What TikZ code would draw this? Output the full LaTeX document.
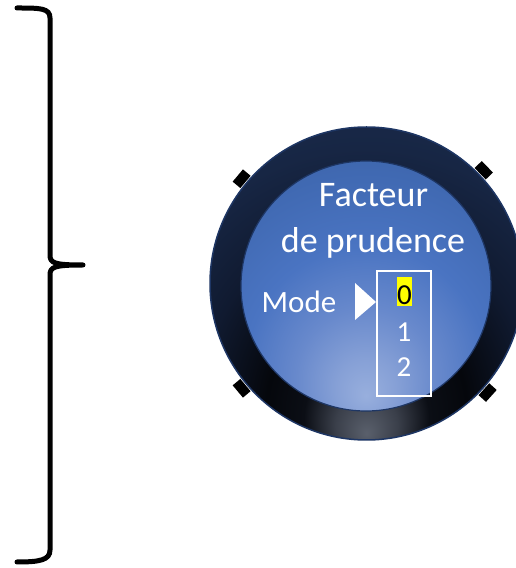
\documentclass[tikz,border=0pt]{standalone}
\usepackage{fontspec}
\setmainfont{Carlito}
\usetikzlibrary{calc}
\definecolor{rgA}{HTML}{5A606C}
\definecolor{rgB}{HTML}{3A3F4A}
\definecolor{rgC}{HTML}{0B0E15}
\definecolor{rgD}{HTML}{05070C}
\definecolor{rgE}{HTML}{101A30}
\definecolor{rgF}{HTML}{172644}
\definecolor{rgG}{HTML}{1C2E52}
\definecolor{inA}{HTML}{98AFDD}
\definecolor{inB}{HTML}{86A0D6}
\definecolor{inC}{HTML}{6889CC}
\definecolor{inD}{HTML}{4A74C2}
\definecolor{inE}{HTML}{4069B2}
\definecolor{inF}{HTML}{3A5E9F}
\definecolor{inG}{HTML}{35568F}
\definecolor{rimblue}{HTML}{1E3664}
\definecolor{hiyellow}{HTML}{FFFF00}
\pgfdeclareradialshading{ringshade}{\pgfpoint{0bp}{-24bp}}{color(0bp)=(rgA); color(5bp)=(rgB); color(10bp)=(rgC); color(16bp)=(rgD); color(26bp)=(rgE); color(36bp)=(rgF); color(50bp)=(rgG); color(90bp)=(rgG)}
\pgfdeclareradialshading{innershade}{\pgfpoint{0bp}{-22bp}}{color(0bp)=(inA); color(6bp)=(inB); color(14bp)=(inC); color(24bp)=(inD); color(36bp)=(inE); color(48bp)=(inF); color(60bp)=(inG); color(90bp)=(inG)}
\tikzset{
  brace/.style={line width=5pt, line cap=round, line join=round},
  tab/.style={fill=black, draw=none, minimum width=10pt, minimum height=16pt, inner sep=0pt},
  title/.style={text=white, font=\fontsize{36}{44}\selectfont, anchor=base, inner sep=0pt},
  modetxt/.style={text=white, font=\fontsize{31}{38}\selectfont, anchor=base, inner sep=0pt},
  digit/.style={text=white, font=\fontsize{29}{35}\selectfont, anchor=base, inner sep=0pt}
}
\begin{document}
\begin{tikzpicture}[x=1pt,y=1pt]
\useasboundingbox (0,0) rectangle (516,568);
% brace
\draw[brace] (17,560) .. controls (40,560) and (50,560) .. (50,550) -- (50,313)
  .. controls (50,305) and (54,303) .. (83,303)
  .. controls (54,303) and (50,301) .. (50,293) -- (50,18)
  .. controls (50,8) and (40,6) .. (17,6);
% tabs
\coordinate (C) at (366.5,284.5);
\foreach \a/\n in {140/t1,44/t2,220/t3,318/t4}{
  \node[tab, rotate=\a] (\n) at ($(C)+(\a:163)$) {};
}
% outer ring
\shade[shading=ringshade, draw=rimblue, line width=1.5pt] (C) circle (156.5);
% inner disc
\shade[shading=innershade, draw=rimblue, line width=1.2pt] (366,282) circle (125);
% texts
\node[title] (f1) at (373.5,361) {Facteur};
\node[title] (f2) at (373,315) {de prudence};
\node[modetxt] (mode) at (299,255) {Mode};
\fill[white] (355,285) -- (376,266) -- (355,248) -- cycle;
\draw[white, line width=1.5pt] (377,297) rectangle (431,172);
\fill[hiyellow] (397,291) rectangle (412,262);
\node[digit, text=black] (d0) at (404.5,263) {0};
\node[digit] (d1) at (404,226) {1};
\node[digit] (d2) at (404,191) {2};
\end{tikzpicture}
\end{document}
